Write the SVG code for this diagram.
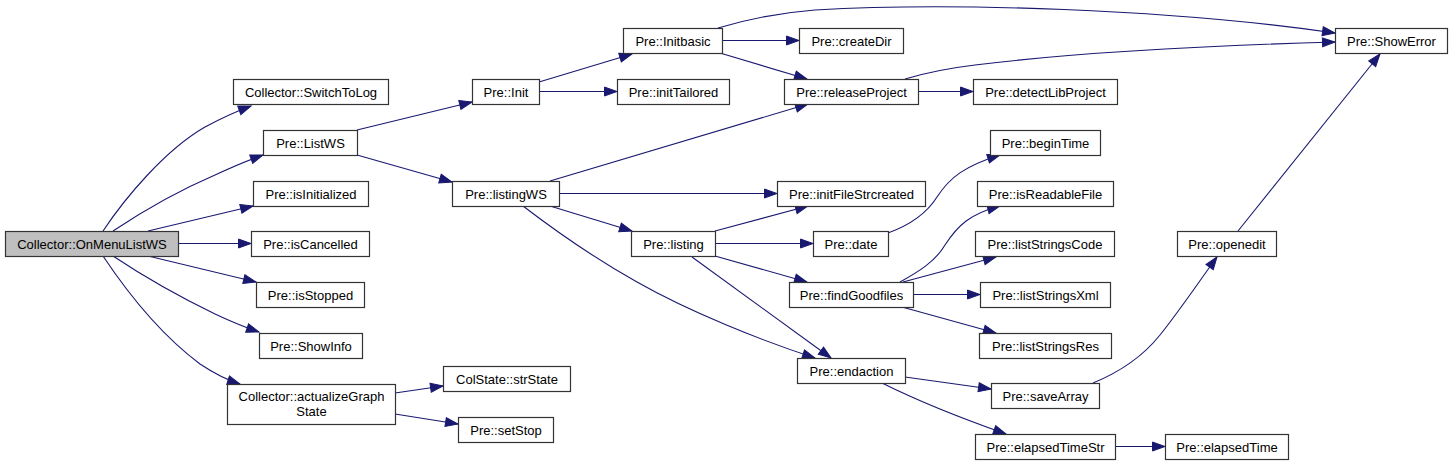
<svg xmlns="http://www.w3.org/2000/svg" width="1452" height="465" viewBox="0 0 1452 465">
<style>
.node rect{fill:#ffffff;stroke:#333333;stroke-width:1.2}
.root rect{fill:#bfbfbf}
.node text{font-family:"Liberation Sans",Arial,sans-serif;font-size:13px;fill:#000;text-anchor:middle}
.edges path{fill:none;stroke:#191970;stroke-width:1.1;marker-end:url(#arr)}
</style>
<defs>
<marker id="arr" markerUnits="userSpaceOnUse" markerWidth="16" markerHeight="12" refX="13.5" refY="5.5" orient="auto">
<path d="M1,1 L13.5,5.5 L1,10 z" fill="#191970" stroke="#191970" stroke-width="1"/>
</marker>
</defs>
<rect x="0" y="0" width="1452" height="465" fill="#ffffff"/>
<g class="edges">
<path d="M103,231 C125,198 165,150 205,127 C220,119 232,113 251,106"/>
<path d="M113,231 C140,213 180,190 215,175 C232,167 246,161 263,155"/>
<path d="M148,231 L253,206"/>
<path d="M178,243.5 L251,243.5"/>
<path d="M148,256 L256,282"/>
<path d="M113,256 C140,274 180,297 215,314 C230,321 244,327 259,332"/>
<path d="M103,256 C125,289 160,334 200,364 C212,372 224,379 240,384"/>
<path d="M357,130 L472,102"/>
<path d="M357,155 L452,182"/>
<path d="M539,82 L632,54"/>
<path d="M539,91.5 L617,91.5"/>
<path d="M722,40.5 L799,40.5"/>
<path d="M720,53 L807,79"/>
<path d="M718,28 C745,20 775,13 815,10 C950,2 1170,9 1335,33"/>
<path d="M905,79 C925,73 950,68 975,65 C1080,52 1230,45 1335,42"/>
<path d="M918,91.5 L973,91.5"/>
<path d="M550,181 L808,104"/>
<path d="M559,193.5 L777,193.5"/>
<path d="M550,206 L632,231"/>
<path d="M523,206 C553,229 596,259 637,282 C690,312 760,340 815,358"/>
<path d="M715,231 L808,206"/>
<path d="M715,243.5 L813,243.5"/>
<path d="M715,256 L807,282"/>
<path d="M692,257 L831,358"/>
<path d="M888,233 C910,225 927,213 937,197 C950,177 965,166 1000,155"/>
<path d="M900,282 C918,272 935,262 945,245 C958,225 970,214 1000,206"/>
<path d="M903,282 L996,257"/>
<path d="M913,294.5 L980,294.5"/>
<path d="M902,307 L996,333"/>
<path d="M905,377 L991,389"/>
<path d="M882,383 C910,397 955,416 1006,434"/>
<path d="M1093,383 C1115,374 1140,360 1160,335 C1180,310 1198,283 1217,257"/>
<path d="M1238,231 L1380,54"/>
<path d="M395,393 L443,386"/>
<path d="M395,414 L458,424"/>
<path d="M1115,446.5 L1165,446.5"/>
</g>
<g id="n_OnMenuListWS" class="node root"><rect x="5.5" y="231.5" width="173" height="25"/><text x="92" y="248.5">Collector::OnMenuListWS</text></g>
<g id="n_SwitchToLog" class="node"><rect x="233.5" y="79.5" width="155" height="25"/><text x="311" y="96.5">Collector::SwitchToLog</text></g>
<g id="n_ListWS" class="node"><rect x="263.5" y="130.5" width="94" height="25"/><text x="310.5" y="147.5">Pre::ListWS</text></g>
<g id="n_isInitialized" class="node"><rect x="253.5" y="181.5" width="115" height="25"/><text x="311" y="198.5">Pre::isInitialized</text></g>
<g id="n_isCancelled" class="node"><rect x="251.5" y="231.5" width="118" height="25"/><text x="310.5" y="248.5">Pre::isCancelled</text></g>
<g id="n_isStopped" class="node"><rect x="256.5" y="282.5" width="108" height="25"/><text x="310.5" y="299.5">Pre::isStopped</text></g>
<g id="n_ShowInfo" class="node"><rect x="259.5" y="333.5" width="103" height="25"/><text x="311" y="350.5">Pre::ShowInfo</text></g>
<g id="n_actualizeGraphState" class="node"><rect x="227.5" y="384.5" width="168" height="40"/><text x="311.5" y="400.5">Collector::actualizeGraph</text><text x="311.5" y="415.5">State</text></g>
<g id="n_strState" class="node"><rect x="443.5" y="366.5" width="127" height="25"/><text x="507" y="383.5">ColState::strState</text></g>
<g id="n_setStop" class="node"><rect x="458.5" y="417.5" width="95" height="25"/><text x="506" y="434.5">Pre::setStop</text></g>
<g id="n_Init" class="node"><rect x="472.5" y="79.5" width="67" height="25"/><text x="506" y="96.5">Pre::Init</text></g>
<g id="n_listingWS" class="node"><rect x="452.5" y="181.5" width="107" height="25"/><text x="506" y="198.5">Pre::listingWS</text></g>
<g id="n_Initbasic" class="node"><rect x="623.5" y="28.5" width="99" height="25"/><text x="673" y="45.5">Pre::Initbasic</text></g>
<g id="n_initTailored" class="node"><rect x="617.5" y="79.5" width="112" height="25"/><text x="673.5" y="96.5">Pre::initTailored</text></g>
<g id="n_createDir" class="node"><rect x="799.5" y="28.5" width="104" height="25"/><text x="851.5" y="45.5">Pre::createDir</text></g>
<g id="n_releaseProject" class="node"><rect x="784.5" y="79.5" width="134" height="25"/><text x="851.5" y="96.5">Pre::releaseProject</text></g>
<g id="n_initFileStrcreated" class="node"><rect x="777.5" y="181.5" width="148" height="25"/><text x="851.5" y="198.5">Pre::initFileStrcreated</text></g>
<g id="n_listing" class="node"><rect x="631.5" y="231.5" width="84" height="25"/><text x="673.5" y="248.5">Pre::listing</text></g>
<g id="n_date" class="node"><rect x="813.5" y="231.5" width="75" height="25"/><text x="851" y="248.5">Pre::date</text></g>
<g id="n_findGoodfiles" class="node"><rect x="789.5" y="282.5" width="124" height="25"/><text x="851.5" y="299.5">Pre::findGoodfiles</text></g>
<g id="n_endaction" class="node"><rect x="797.5" y="358.5" width="108" height="25"/><text x="851.5" y="375.5">Pre::endaction</text></g>
<g id="n_ShowError" class="node"><rect x="1335.5" y="28.5" width="112" height="25"/><text x="1391.5" y="45.5">Pre::ShowError</text></g>
<g id="n_detectLibProject" class="node"><rect x="973.5" y="79.5" width="144" height="25"/><text x="1045.5" y="96.5">Pre::detectLibProject</text></g>
<g id="n_beginTime" class="node"><rect x="990.5" y="130.5" width="110" height="25"/><text x="1045.5" y="147.5">Pre::beginTime</text></g>
<g id="n_isReadableFile" class="node"><rect x="977.5" y="181.5" width="136" height="25"/><text x="1045.5" y="198.5">Pre::isReadableFile</text></g>
<g id="n_listStringsCode" class="node"><rect x="975.5" y="231.5" width="139" height="25"/><text x="1045" y="248.5">Pre::listStringsCode</text></g>
<g id="n_listStringsXml" class="node"><rect x="980.5" y="282.5" width="130" height="25"/><text x="1045.5" y="299.5">Pre::listStringsXml</text></g>
<g id="n_listStringsRes" class="node"><rect x="979.5" y="333.5" width="132" height="25"/><text x="1045.5" y="350.5">Pre::listStringsRes</text></g>
<g id="n_saveArray" class="node"><rect x="991.5" y="383.5" width="108" height="25"/><text x="1045.5" y="400.5">Pre::saveArray</text></g>
<g id="n_elapsedTimeStr" class="node"><rect x="975.5" y="434.5" width="140" height="25"/><text x="1045.5" y="451.5">Pre::elapsedTimeStr</text></g>
<g id="n_elapsedTime" class="node"><rect x="1165.5" y="434.5" width="123" height="25"/><text x="1227" y="451.5">Pre::elapsedTime</text></g>
<g id="n_openedit" class="node"><rect x="1177.5" y="231.5" width="99" height="25"/><text x="1227" y="248.5">Pre::openedit</text></g>
</svg>
